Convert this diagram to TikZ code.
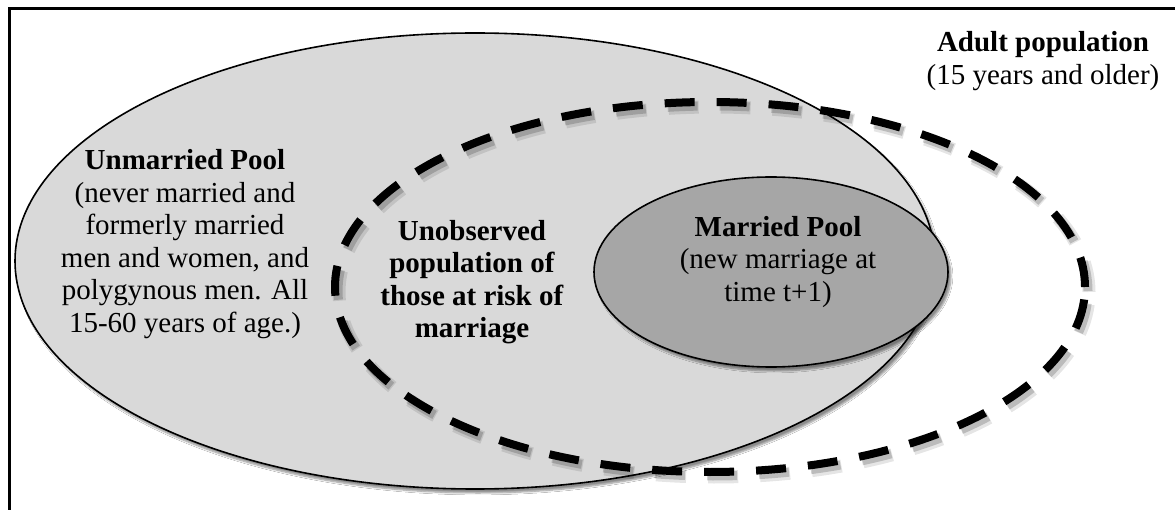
\documentclass[tikz,border=0pt]{standalone}
\usepackage{fontspec}
\setmainfont{Liberation Serif}
\usetikzlibrary{shapes.geometric,shadows.blur}
\definecolor{poolgray}{HTML}{D9D9D9}
\definecolor{marriedgray}{HTML}{A6A6A6}
\begin{document}
\begin{tikzpicture}[x=1pt,y=-1pt,
  txt/.style={align=center,font=\fontsize{29}{32.5}\selectfont,inner sep=0pt},
  pool/.style={ellipse,draw=black,line width=1.6pt,inner sep=0pt,
    blur shadow={shadow xshift=3pt,shadow yshift=-4pt,shadow blur steps=6,shadow opacity=45}},
  riskring/.style={ellipse,draw=black,line width=8pt,dash pattern=on 30pt off 22pt,inner sep=0pt},
  riskshadow/.style={ellipse,draw=black,dash pattern=on 30pt off 22pt,inner sep=0pt}
]
\useasboundingbox (0,0) rectangle (1175,510);
\fill[white] (0,0) rectangle (1175,510);
% frame
\coordinate (fbl) at (9,512);
\coordinate (ftl) at (9,8.5);
\coordinate (ftr) at (1177,8.5);
\draw[line width=3pt] (fbl) -- (ftl) -- (ftr);
% unmarried pool
\node[pool,fill=poolgray,minimum width=920pt,minimum height=456pt] (unmarried) at (475,261) {};
% dashed ring shadow
\node[riskshadow,line width=13pt,draw opacity=0.10,minimum width=750pt,minimum height=370pt] (ringsh1) at (714,292) {};
\node[riskshadow,line width=9pt,draw opacity=0.18,minimum width=750pt,minimum height=370pt] (ringsh2) at (713,291) {};
% dashed ring
\node[riskring,minimum width=750pt,minimum height=370pt] (ring) at (710,287) {};
% married pool
\node[pool,fill=marriedgray,minimum width=354pt,minimum height=190pt] (married) at (771,272) {};
% texts
\node[txt] (adult) at (1043,61) {\textbf{Adult population}\\(15 years and older)};
\node[txt] (unmtxt) at (185,244) {\textbf{Unmarried Pool}\\(never married and\\formerly married\\men and women, and\\polygynous men. All\\15-60 years of age.)};
\node[txt] (risktxt) at (472,282) {\textbf{Unobserved}\\\textbf{population of}\\\textbf{those at risk of}\\\textbf{marriage}};
\node[txt] (martxt) at (778,262) {\textbf{Married Pool}\\(new marriage at\\time t+1)};
\end{tikzpicture}
\end{document}
